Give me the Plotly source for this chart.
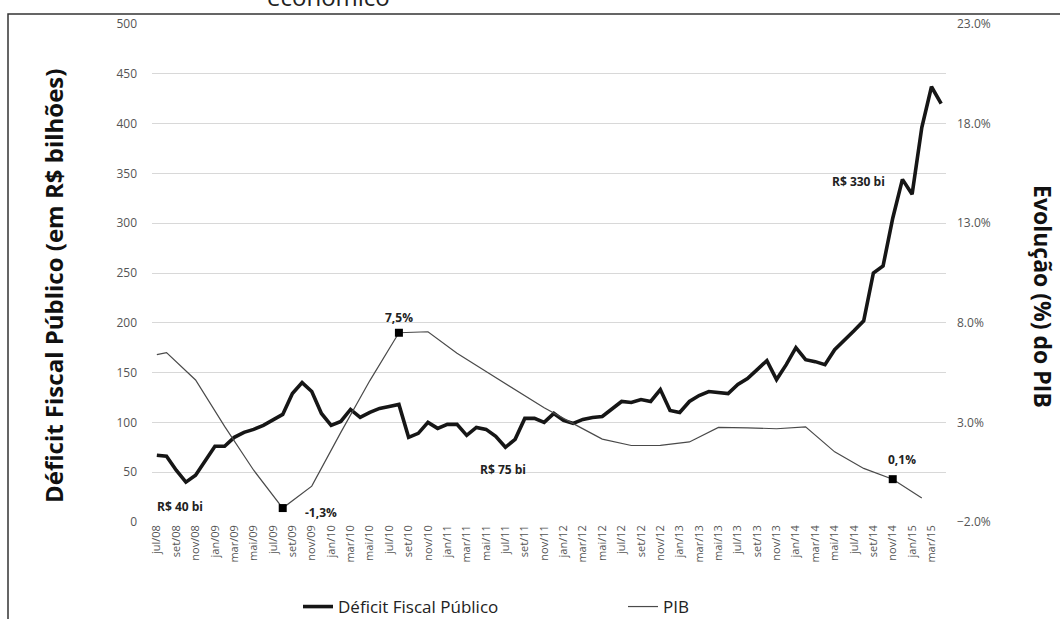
import plotly.graph_objects as go

# ---------------- data ----------------
month_names = ["jan", "fev", "mar", "abr", "mai", "jun", "jul", "ago", "set", "out", "nov", "dez"]
start_year, start_month, n_months = 2008, 7, 82
months = []
for i in range(n_months):
    k = start_month - 1 + i
    months.append(f"{month_names[k % 12]}/{(start_year + k // 12) % 100:02d}")

deficit = [67, 66, 52, 40, 47, 61, 76, 76, 85, 90, 93, 97, 102, 108, 129, 140, 131, 109,
           97, 101, 113, 105, 110, 114, 116, 118, 85, 89, 100, 94, 98, 98, 87, 95, 93, 86,
           75, 83, 104, 104, 100, 109, 102, 99, 103, 105, 106, 113, 121, 120, 123, 121, 133,
           112, 110, 121, 127, 131, 130, 129, 138, 144, 153, 162, 143, 158, 175, 163, 161,
           158, 173, 182, 192, 202, 250, 257, 305, 344, 329, 396, 437, 420]

pib_dates = ["jul/08", "ago/08", "nov/08", "fev/09", "mai/09", "ago/09", "nov/09", "fev/10",
             "mai/10", "ago/10", "nov/10", "fev/11", "mai/11", "ago/11", "nov/11", "fev/12",
             "mai/12", "ago/12", "nov/12", "fev/13", "mai/13", "ago/13", "nov/13", "fev/14",
             "mai/14", "ago/14", "nov/14", "fev/15"]
pib = [6.4, 6.5, 5.13, 2.8, 0.6, -1.3, -0.2, 2.5, 5.1, 7.5, 7.55, 6.47, 5.55, 4.63, 3.74,
       2.94, 2.16, 1.84, 1.85, 2.02, 2.75, 2.73, 2.68, 2.78, 1.52, 0.69, 0.15, -0.79]

tick_labels = months[0:81:2]

pib_marked = ["ago/09", "ago/10", "nov/14"]
pib_marked_text = ["-1,3%", "7,5%", "0,1%"]
deficit_marked = ["out/08", "jul/11", "dez/14"]
deficit_marked_text = ["R$ 40 bi", "R$ 75 bi", "R$ 330 bi"]

FONT = "Open Sans"

# ---------------- figure ----------------
fig = go.Figure()
fig.add_trace(go.Scatter(
    x=months, y=deficit, mode="lines", name="Déficit Fiscal Público",
    line=dict(color="#161616", width=3.6), yaxis="y"))
fig.add_trace(go.Scatter(
    x=pib_dates, y=pib, mode="lines", name="PIB",
    line=dict(color="#4a4a4a", width=1.2), yaxis="y2"))
fig.add_trace(go.Scatter(
    x=pib_marked, y=[pib[pib_dates.index(d)] for d in pib_marked], mode="markers",
    marker=dict(symbol="square", size=8, color="#000000", line=dict(width=0)),
    showlegend=False, yaxis="y2", hoverinfo="skip"))

# plot-area geometry (pixels)
W, H = 1060, 619
L, R, T, B = 152, 114, 24, 97
pw, ph = W - L - R, H - T - B


def px_x(x):
    return (x - L) / pw


def px_y(y):
    return (H - B - y) / ph


annotations = []
deficit_shifts = [(-6, -24), (-2, -22), (-44, -2)]
for d, t, (xs, ys) in zip(deficit_marked, deficit_marked_text, deficit_shifts):
    annotations.append(dict(x=d, y=deficit[months.index(d)], xref="x", yref="y", text=f"<b>{t}</b>",
                            showarrow=False, xshift=xs, yshift=ys,
                            font=dict(family=FONT, size=12, color="#222")))
pib_shifts = [(38, -4), (0, 15), (9, 20)]
for d, t, (xs, ys) in zip(pib_marked, pib_marked_text, pib_shifts):
    annotations.append(dict(x=d, y=pib[pib_dates.index(d)], xref="x", yref="y2", text=f"<b>{t}</b>",
                            showarrow=False, xshift=xs, yshift=ys,
                            font=dict(family=FONT, size=12, color="#222")))

# axis titles
annotations.append(dict(x=px_x(53), y=px_y(286), xref="paper", yref="paper",
                        xanchor="center", yanchor="middle",
                        text="<b>Déficit Fiscal Público (em R$ bilhões)</b>", textangle=-90,
                        showarrow=False, font=dict(family=FONT, size=24, color="#111")))
annotations.append(dict(x=px_x(1043), y=px_y(296), xref="paper", yref="paper",
                        xanchor="center", yanchor="middle",
                        text="<b>Evolução (%) do PIB</b>", textangle=90,
                        showarrow=False, font=dict(family=FONT, size=23, color="#111")))
# cut-off title line at the very top
annotations.append(dict(x=px_x(265), y=px_y(-22), xref="paper", yref="paper",
                        text="econômico", showarrow=False,
                        font=dict(family=FONT, size=24, color="#222")))

shapes = [dict(type="rect", xref="paper", yref="paper",
               x0=px_x(8), x1=px_x(1075), y0=px_y(640), y1=px_y(14),
               line=dict(color="#333", width=1.5), fillcolor="rgba(0,0,0,0)", layer="below")]

fig.update_layout(
    width=W, height=H,
    margin=dict(l=L, r=R, t=T, b=B, autoexpand=False),
    paper_bgcolor="white", plot_bgcolor="white",
    font=dict(family=FONT, color="#444"),
    showlegend=True,
    legend=dict(orientation="h", x=px_x(298), y=px_y(607), xanchor="left", yanchor="middle",
                font=dict(family=FONT, size=17, color="#222"),
                entrywidth=280, entrywidthmode="pixels", bgcolor="rgba(0,0,0,0)"),
    xaxis=dict(type="category", categoryorder="array", categoryarray=months, automargin=False,
               range=[-0.5, n_months - 0.5], tickmode="array", tickvals=tick_labels,
               ticktext=tick_labels, tickangle=-90, showgrid=False, zeroline=False,
               showline=False, ticks="", tickfont=dict(family=FONT, size=11, color="#555")),
    yaxis=dict(range=[0, 500], dtick=50, showgrid=True, gridcolor="#d8d8d8", gridwidth=1,
               zeroline=False, showline=False, ticks="", ticklabelstandoff=14, automargin=False,
               tickfont=dict(family=FONT, size=12, color="#555")),
    yaxis2=dict(range=[-2, 23], dtick=5, tick0=-2, overlaying="y", side="right",
                showgrid=False, zeroline=False, showline=False, ticks="", automargin=False,
                tickformat=".1f", ticksuffix="%", ticklabelstandoff=10,
                tickfont=dict(family=FONT, size=12, color="#555")),
    annotations=annotations,
    shapes=shapes,
)

fig.write_html("out.html")
